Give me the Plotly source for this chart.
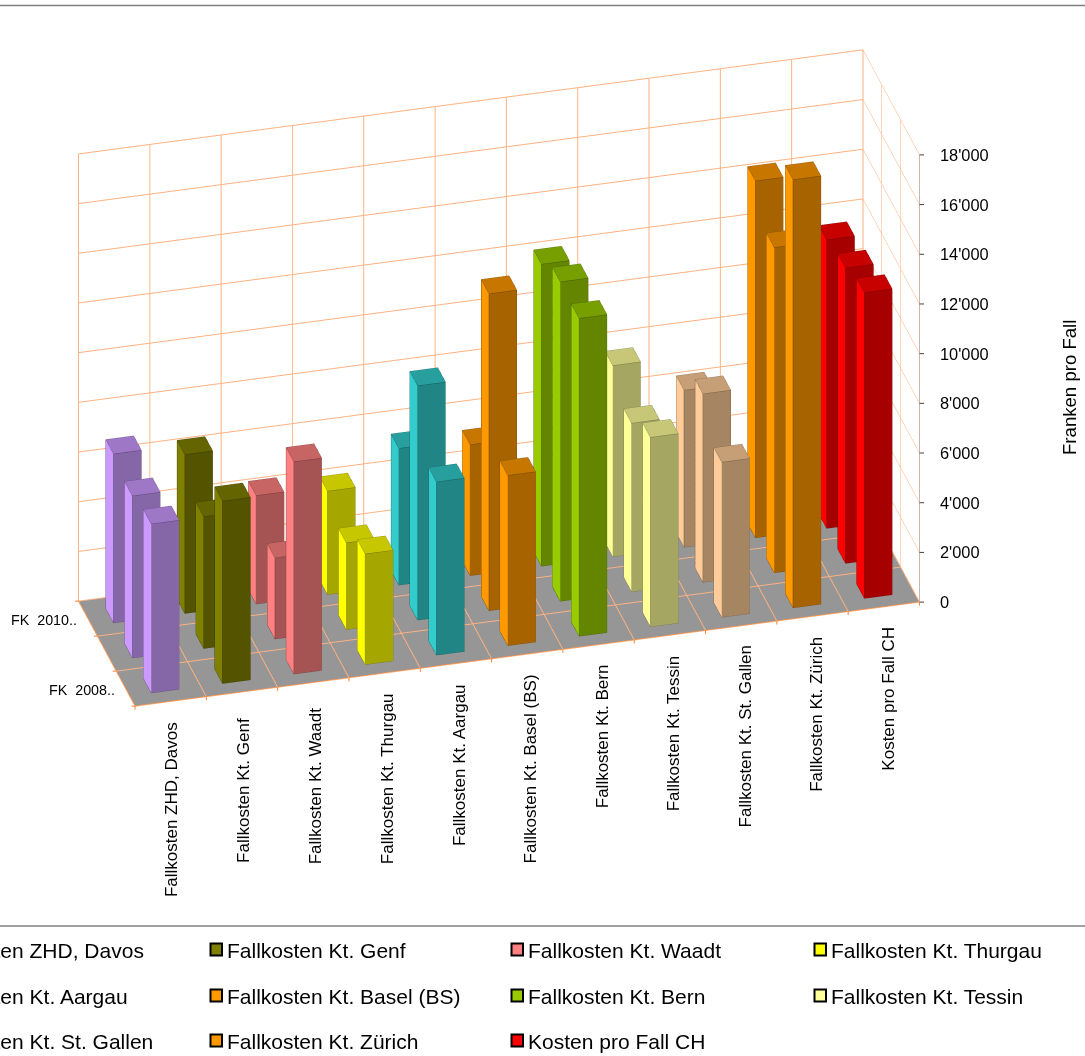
import plotly.graph_objects as go

W, H = 1085, 1056
categories = ["Fallkosten ZHD, Davos", "Fallkosten Kt. Genf", "Fallkosten Kt. Waadt", "Fallkosten Kt. Thurgau",
              "Fallkosten Kt. Aargau", "Fallkosten Kt. Basel (BS)", "Fallkosten Kt. Bern", "Fallkosten Kt. Tessin",
              "Fallkosten Kt. St. Gallen", "Fallkosten Kt. Zürich", "Kosten pro Fall CH"]
fk_2008 = [6800, 7340, 8540, 4450, 6970, 6850, 12790, 7620, 6240, 17230, 12300]
fk_2009 = [6520, 5300, 3260, 3490, 9430, 12750, 12850, 6780, 7580, 13090, 11880]
fk_2010 = [6800, 6390, 4360, 4160, 5500, 5270, 12150, 7690, 6320, 14360, 11610]
series_labels = ["FK  2008..", "", "FK  2010.."]
value_ticks = [0, 2000, 4000, 6000, 8000, 10000, 12000, 14000, 16000, 18000]
value_labels = ["0", "2'000", "4'000", "6'000", "8'000", "10'000", "12'000", "14'000", "16'000", "18'000"]
side_colors = ["#CC99FF", "#808000", "#FF8080", "#FFFF00", "#33CCCC", "#FF9900", "#99CC00", "#FFFF99", "#FFCC99", "#FF9900", "#FF0000"]
front_colors = ["#8566A6", "#535300", "#A65353", "#A6A600", "#218585", "#A66300", "#638500", "#A6A663", "#A68563", "#A66300", "#A60000"]
top_colors = ["#9F77C7", "#646400", "#C76464", "#C7C700", "#289F9F", "#C77700", "#779F00", "#C7C777", "#C79F77", "#C77700", "#C70000"]
edge_colors = ["#5A4570", "#383800", "#703838", "#707000", "#165A5A", "#704300", "#435A00", "#707043", "#705A43", "#704300", "#700000"]

BAR_W, BAR_D = 0.39, 0.41
series = [fk_2008, fk_2009, fk_2010]
fig = go.Figure()
for c in range(len(categories)):
    vx, vy, vz, fi, fj, fk, fc, ex, ey, ez = [], [], [], [], [], [], [], [], [], []
    for s, values in enumerate(series):
        x0, x1 = c + .5 - BAR_W / 2, c + .5 + BAR_W / 2
        y0, y1 = s + .5 - BAR_D / 2, s + .5 + BAR_D / 2
        v = values[c]
        b = len(vx)
        vx += [x0, x1, x1, x0, x0, x1, x1, x0]
        vy += [y0, y0, y1, y1, y0, y0, y1, y1]
        vz += [0, 0, 0, 0, v, v, v, v]
        quads = [((0, 1, 5, 4), front_colors[c]), ((1, 2, 6, 5), front_colors[c]), ((2, 3, 7, 6), front_colors[c]),
                 ((3, 0, 4, 7), side_colors[c]), ((4, 5, 6, 7), top_colors[c]), ((0, 1, 2, 3), front_colors[c])]
        for (p, q, r, t), col in quads:
            fi += [b + p, b + p]; fj += [b + q, b + r]; fk += [b + r, b + t]; fc += [col, col]
        for a, d in [(0, 1), (1, 5), (5, 4), (4, 0), (4, 7), (7, 6), (6, 5), (0, 3), (3, 7)]:
            ex += [vx[b + a], vx[b + d], None]
            ey += [vy[b + a], vy[b + d], None]
            ez += [vz[b + a], vz[b + d], None]
    fig.add_trace(go.Mesh3d(x=vx, y=vy, z=vz, i=fi, j=fj, k=fk, facecolor=fc, flatshading=True, hoverinfo="skip",
                            name=categories[c], showlegend=False,
                            lighting=dict(ambient=1, diffuse=0, specular=0, roughness=1, fresnel=0)))
    fig.add_trace(go.Scatter3d(x=ex, y=ey, z=ez, mode="lines", line=dict(color=edge_colors[c], width=1),
                               hoverinfo="skip", showlegend=False))

# frame edges of the floor and the value axis
n = len(categories)
fig.add_trace(go.Scatter3d(x=[0, n, None, 0, 0], y=[0, 0, None, 0, 3], z=[0, 0, None, 0, 0], mode="lines",
                           line=dict(color="#FF9040", width=2), hoverinfo="skip", showlegend=False))
fig.add_trace(go.Scatter3d(x=[n, n], y=[0, 0], z=[0, value_ticks[-1]], mode="lines",
                           line=dict(color="#B8B8B8", width=2), hoverinfo="skip", showlegend=False))

font = "Liberation Sans, Arial, sans-serif"
ann3d = []
label_yshift = [-18.5, -23.5, -23.5, -18.5, -18.5, -18.5, -17.5, -18.5, -17.5, -18.5, -17.5]
label_xshift = [1, 2, 2, 2.5, 3, 3, 3.5, 3.7, 4, 4, 4.5]
for c, name in enumerate(categories):
    ann3d.append(dict(x=c + .5, y=0, z=0, text=name, textangle=-90, showarrow=False, xanchor="center", yanchor="top",
                      yshift=label_yshift[c], xshift=label_xshift[c], font=dict(family=font, size=17, color="#000")))
for s, name in enumerate(series_labels):
    if name:
        ann3d.append(dict(x=0, y=s + .5, z=0, text=name, showarrow=False, xanchor="right", xshift=-9, yshift=-1,
                          font=dict(family=font, size=14.3, color="#000")))
for v, t in zip(value_ticks, value_labels):
    ann3d.append(dict(x=n, y=0, z=v, text=t, showarrow=False, xanchor="left", xshift=19,
                      font=dict(family=font, size=16.4, color="#000")))
    ann3d.append(dict(x=n, y=0, z=v, text="", showarrow=True, arrowhead=0, arrowwidth=1, arrowcolor="#404040",
                      ax=6, ay=0, standoff=0))
for c in range(n + 1):
    ann3d.append(dict(x=c, y=0, z=0, text="", showarrow=True, arrowhead=0, arrowwidth=1, arrowcolor="#FF8030",
                      ax=0, ay=5, standoff=0))
for s in range(4):
    ann3d.append(dict(x=0, y=s, z=0, text="", showarrow=True, arrowhead=0, arrowwidth=1, arrowcolor="#FF8030",
                      ax=-5, ay=0, standoff=0))

grid = "#FFB27F"
def axis(rng, ticks, **kw):
    return dict(range=rng, tickvals=ticks, showticklabels=False, showgrid=True, gridcolor=grid, gridwidth=2,
                zeroline=False, showspikes=False, title=dict(text=""), showbackground=False, showline=False,
                ticks="", **kw)

SCALE = 1.363
cx1, cy_h = 998 / W, 756 / H
fig.update_layout(
    width=W, height=H, margin=dict(l=0, r=0, t=0, b=0), paper_bgcolor="white", showlegend=False,
    scene=dict(
        domain=dict(x=[0, cx1], y=[1 - cy_h, 1]),
        xaxis=axis([0, n], list(range(n + 1))),
        yaxis=axis([0, 3], [0, 1, 2, 3]),
        zaxis={**axis([0, 18000], value_ticks), "showbackground": True, "backgroundcolor": "#969696"},
        aspectmode="manual", aspectratio=dict(x=1.576 * SCALE, y=.425 * SCALE, z=1 * SCALE),
        camera=dict(projection=dict(type="orthographic"), up=dict(x=0, y=0, z=1),
                    center=dict(x=0, y=0, z=0), eye=dict(x=-.448, y=-1.677, z=.993)),
        annotations=ann3d,
    ),
)

def px(x): return x / W
def py(y): return 1 - y / H
shapes = [dict(type="line", xref="paper", yref="paper", x0=0, x1=1, y0=py(y), y1=py(y), line=dict(color="#808080", width=1.5)) for y in (5.5, 926)]
annots = [dict(xref="paper", yref="paper", x=px(1069), y=py(388), text="Franken pro Fall", textangle=-90, showarrow=False,
               xanchor="center", yanchor="middle", font=dict(family=font, size=18.6, color="#000"))]
legend_x = [-74, 225, 526, 829]
legend_y = [950, 996, 1041]
for c, name in enumerate(categories):
    lx, ly = legend_x[c % 4], legend_y[c // 4]
    shapes.append(dict(type="rect", xref="paper", yref="paper", x0=px(lx - 14.5), x1=px(lx - 3), y0=py(ly - 6.5), y1=py(ly + 5.5),
                       fillcolor=side_colors[c], line=dict(color="#000", width=2)))
    annots.append(dict(xref="paper", yref="paper", x=px(lx), y=py(ly), text=name, showarrow=False, xanchor="left", yanchor="middle",
                       font=dict(family=font, size=21, color="#000")))
fig.update_layout(shapes=shapes, annotations=annots)
fig.write_html("out.html", config={"displayModeBar": False},
               post_script="document.body.style.margin='0';document.body.style.overflow='hidden';")
